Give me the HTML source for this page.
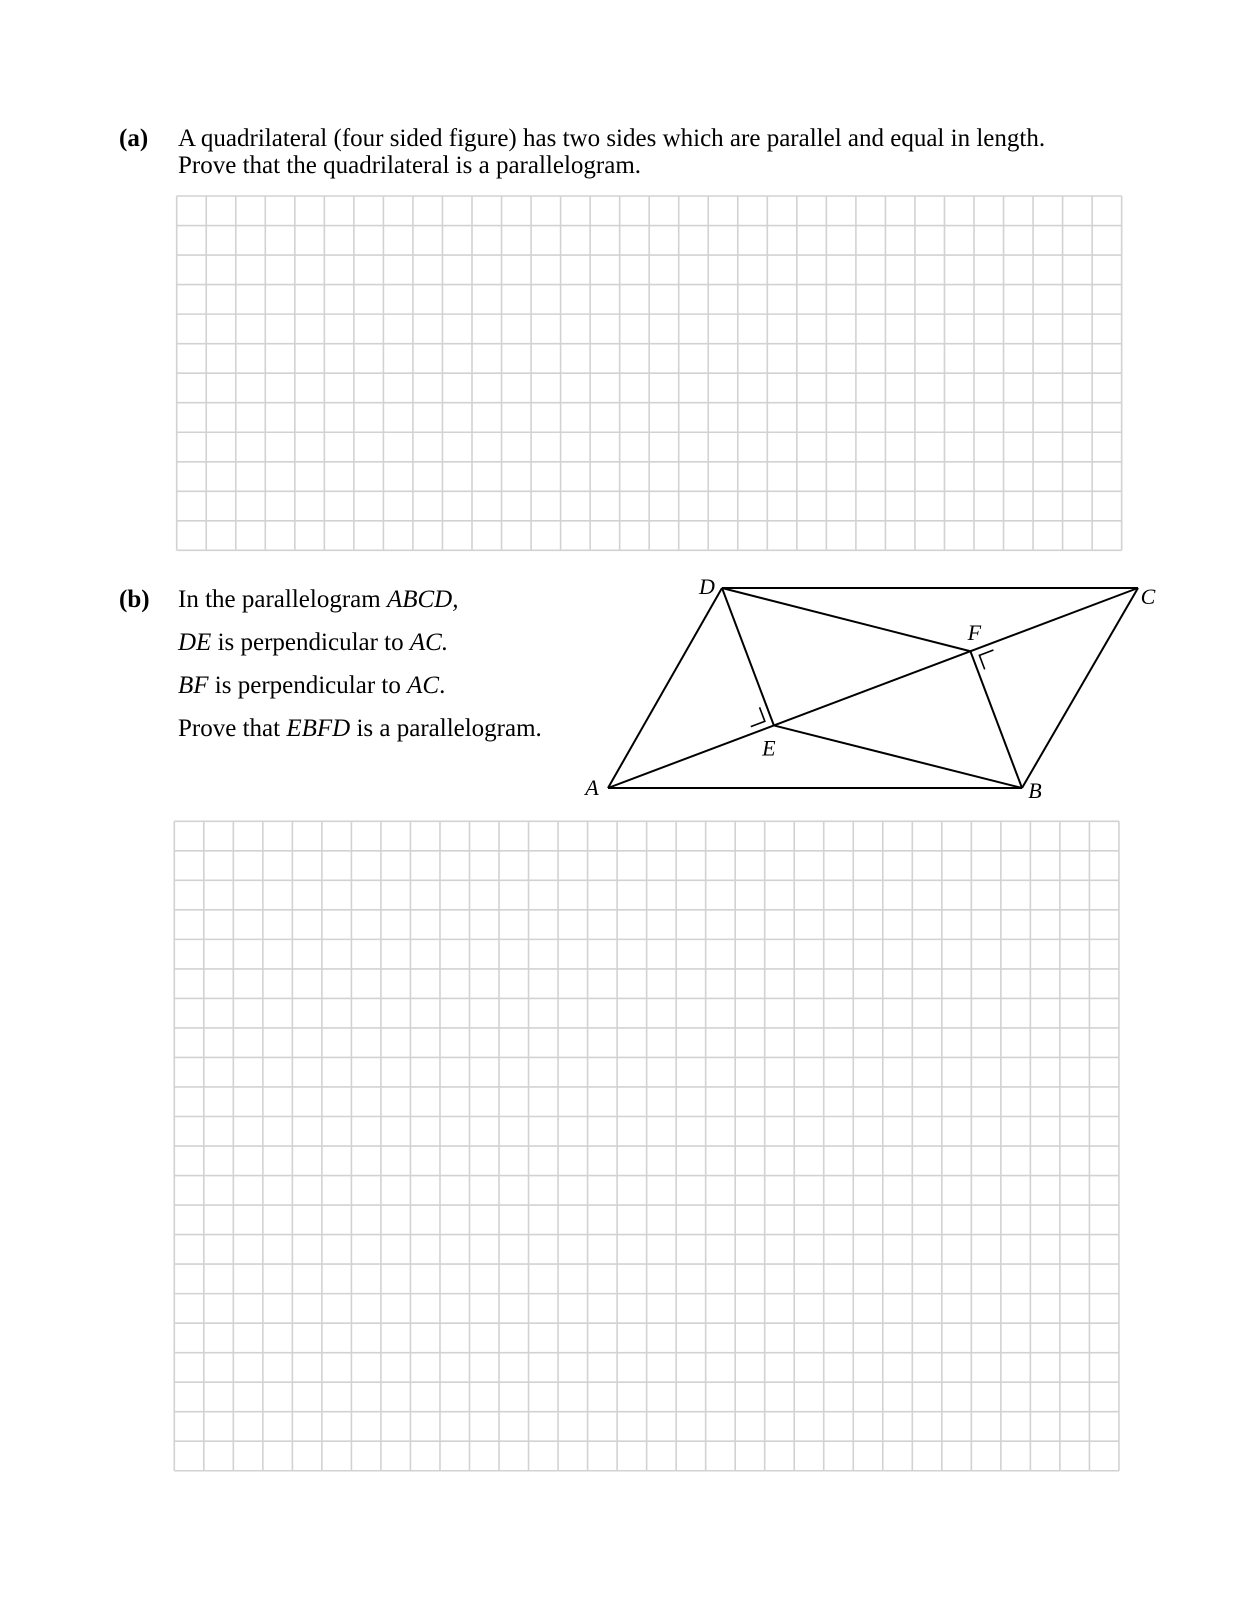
<!DOCTYPE html>
<html><head><meta charset="utf-8">
<style>
html,body{margin:0;padding:0;background:#fff;}
body{width:1240px;height:1599px;position:relative;overflow:hidden;font-family:"Liberation Serif",serif;color:#000;}
.t{position:absolute;font-size:25px;line-height:27px;white-space:nowrap;}
.b{font-weight:bold;}
svg{position:absolute;left:0;top:0;}
</style></head>
<body>
<div class="t b" style="left:119px;top:125px;">(a)</div>
<div class="t" style="left:178px;top:125px;">A quadrilateral (four sided figure) has two sides which are parallel and equal in length.<br>Prove that the quadrilateral is a parallelogram.</div>

<div class="t b" style="left:119px;top:586px;">(b)</div>
<div class="t" style="left:178px;top:586px;">In the parallelogram <i>ABCD,</i></div>
<div class="t" style="left:178px;top:629px;"><i>DE</i> is perpendicular to <i>AC.</i></div>
<div class="t" style="left:178px;top:672px;"><i>BF</i> is perpendicular to <i>AC</i>.</div>
<div class="t" style="left:178px;top:715px;">Prove that <i>EBFD</i> is a parallelogram.</div>

<svg id="s" width="1240" height="1599" xmlns="http://www.w3.org/2000/svg"></svg>

<script>
const gridA = {x:176.7, y:196, cols:32, rows:12, cell:29.53};
const gridB = {x:174.3, y:821.3, cols:32, rows:22, cell:29.52};
const vA=[608,788], vB=[1022,788], vC=[1138,588], vD=[722,588];

const NS='http://www.w3.org/2000/svg';
const svg=document.getElementById('s');
function ln(x1,y1,x2,y2,stroke,w,name){
  const l=document.createElementNS(NS,'line');
  l.setAttribute('x1',x1);l.setAttribute('y1',y1);l.setAttribute('x2',x2);l.setAttribute('y2',y2);
  l.setAttribute('stroke',stroke);l.setAttribute('stroke-width',w);
  
  
  svg.appendChild(l);
}
function grid(g,name){
  const w=g.cols*g.cell,h=g.rows*g.cell;
  for(let i=0;i<=g.cols;i++){ln(g.x+i*g.cell,g.y,g.x+i*g.cell,g.y+h,'#d2d2d2',1.6,name+'-vline');}
  for(let j=0;j<=g.rows;j++){ln(g.x,g.y+j*g.cell,g.x+w,g.y+j*g.cell,'#d2d2d2',1.6,name+'-hline');}
}
grid(gridA,'answer-grid-a');
grid(gridB,'answer-grid-b');

function foot(P,Q,R){
  const dx=R[0]-Q[0],dy=R[1]-Q[1],L2=dx*dx+dy*dy;
  const t=((P[0]-Q[0])*dx+(P[1]-Q[1])*dy)/L2;
  return [Q[0]+t*dx,Q[1]+t*dy];
}
const vE=foot(vD,vA,vC), vF=foot(vB,vA,vC);
function seg(P,Q,name){ln(P[0],P[1],Q[0],Q[1],'#000',2,name);}
seg(vA,vB,'side-ab');seg(vB,vC,'side-bc');seg(vC,vD,'side-cd');seg(vD,vA,'side-da');
seg(vA,vC,'diagonal-ac');seg(vD,vE,'segment-de');seg(vB,vF,'segment-bf');
seg(vE,vB,'segment-eb');seg(vD,vF,'segment-df');

function unit(P,Q){const dx=Q[0]-P[0],dy=Q[1]-P[1],l=Math.hypot(dx,dy);return [dx/l,dy/l];}
function rightMark(V,P1,P2,name){
  const u=unit(V,P1),v=unit(V,P2),g=7,s=15;
  const c=[V[0]+u[0]*g+v[0]*g,V[1]+u[1]*g+v[1]*g];
  const a=[c[0]+u[0]*s,c[1]+u[1]*s];
  const b=[c[0]+v[0]*s,c[1]+v[1]*s];
  const p=document.createElementNS(NS,'polyline');
  p.setAttribute('points',a.join(',')+' '+c.join(',')+' '+b.join(','));
  p.setAttribute('fill','none');p.setAttribute('stroke','#000');p.setAttribute('stroke-width',1.6);
  
  
  svg.appendChild(p);
}
rightMark(vE,vA,vD,'right-angle-e');
rightMark(vF,vC,vB,'right-angle-f');

function lab(txt,x,y,name){
  const t=document.createElementNS(NS,'text');
  t.setAttribute('x',x);t.setAttribute('y',y);
  t.setAttribute('font-family','Liberation Serif, serif');t.setAttribute('font-size','22');
  t.setAttribute('font-style','italic');t.setAttribute('text-anchor','middle');
  t.textContent=txt;
  
  
  svg.appendChild(t);
}
lab('D',vD[0]-15,vD[1]+6,'label-d');
lab('C',vC[0]+10,vC[1]+16,'label-c');
lab('A',vA[0]-16,vA[1]+7,'label-a');
lab('B',vB[0]+13,vB[1]+10,'label-b');
lab('E',vE[0]-5,vE[1]+30,'label-e');
lab('F',vF[0]+4,vF[1]-11,'label-f');
</script>
</body></html>
